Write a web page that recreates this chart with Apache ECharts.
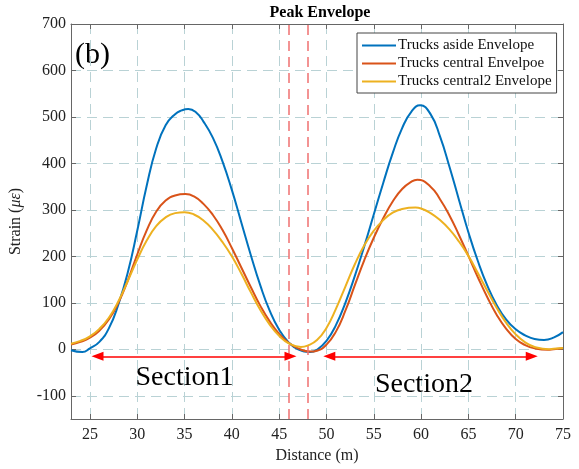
<!DOCTYPE html>
<html>
<head>
<meta charset="utf-8">
<script src="https://cdn.jsdelivr.net/npm/echarts@6/dist/echarts.min.js"></script>
<style>html,body{margin:0;padding:0;background:#fff;}#c{width:579px;height:469px;}</style>
</head>
<body>
<div id="c"></div>
<script>
const asideX = [23,24.2,25,26,27,28,29,30,31,32,33,34,34.7,35.4,36.2,37,38,39,40,41,42,43,44,45,46,47,48.3,49,50,51,52,53,54,55,56,57,58,59,59.9,61,62,63,64,65,66,67,68,69,70,71,72,73,74,75];
const aside = [-2,-6,2,16,45,96,165,255,352,432,482,506,514,517,510,490,455,405,343,273,203,138,83,42,15,0,-6,-1,18,52,100,158,222,290,358,422,476,512,525,506,458,393,322,252,190,137,95,64,43,30,22,20,25,37];
const centralX = [23,24,25,26,27,28,29,30,31,32,33,34,35.1,36,37,38,39,40,41,42,43,44,45,46,47,48.3,49,50,51,52,53,54,55,56,57,58,59,59.6,61,62,63,64,65,66,67,68,69,70,71,72,73.4,74,75];
const central = [10,16,25,40,64,100,148,204,256,296,320,331,334,329,313,289,257,218,176,134,94,60,33,14,2,-5,-3,10,38,83,138,192,240,282,318,345,361,365,350,323,288,246,201,155,112,74,44,22,9,2,-1,0,2];
const central2X = [23,24,25,26,27,28,29,30,31,32,33,34,35,36,37,38,39,40,41,42,43,44,45,46,47.3,48,49,50,51,52,53,54,55,56,57,58,59.4,60,61,62,63,64,65,66,67,68,69,70,71,72,73.5,74,75];
const central2 = [12,18,28,44,68,103,147,193,234,265,284,293,295,290,277,257,231,200,163,123,85,53,29,13,5,8,20,46,87,135,183,224,255,278,294,302,305,303,293,278,258,232,201,164,126,89,57,32,15,5,0,1,3];
const seriesNames = ['Trucks aside Envelope','Trucks central Envelpoe','Trucks central2 Envelope'];
const dividers = [46, 48];
const section1 = [25.8, 46.2];
const section2 = [50.3, 71.7];
const arrowY = -15;
const sectionLabels = [{text:'Section1', x:35, y:-60}, {text:'Section2', x:60.3, y:-75}];

const FONT = "'Liberation Serif','Times New Roman',serif";
const colors = ['#0072BD','#D95319','#EDB120'];
const gridColor = '#b9d2d5';
const axisColor = '#666';

function pairs(xs, ys){ return xs.map((x,i)=>[x, ys[i]]); }

const chart = echarts.init(document.getElementById('c'), null, {renderer:'canvas'});
const xBase = {type:'value', min:23, max:75, splitNumber:10, gridIndex:0};
const yBase = {type:'value', min:-150, max:700, splitNumber:8, gridIndex:0};
const lineIcon = 'path://M0,0L34,0L34,2L0,2Z';
chart.setOption({
  animation:false,
  backgroundColor:'#fff',
  title:{text:'Peak Envelope', left:315, top:0, textAlign:'center',
    textStyle:{fontFamily:FONT, fontSize:16, fontWeight:'bold', color:'#000'}},
  grid:{left:67, right:16, top:24, bottom:48, containLabel:false},
  legend:{data:seriesNames.map(n=>({name:n, icon:lineIcon})), orient:'vertical', left:357, top:33, padding:[5,5,4,5], itemGap:3,
    itemWidth:34, itemHeight:2, borderColor:'#444', borderWidth:1, backgroundColor:'#fff',
    textStyle:{fontFamily:FONT, fontSize:15, color:'#111', padding:[0,0,0,-3], lineHeight:15}},
  xAxis:[
    Object.assign({}, xBase, {position:'bottom', name:'Distance (m)', nameLocation:'middle', nameGap:29,
      nameTextStyle:{fontFamily:FONT, fontSize:16, color:'#222'},
      axisLine:{show:true, onZero:false, lineStyle:{color:axisColor, width:1}},
      axisTick:{show:true, inside:true, length:5, lineStyle:{color:axisColor}},
      axisLabel:{fontFamily:FONT, fontSize:16, color:'#222', margin:8,
        formatter:v=> (v % 5 === 0 ? String(v) : '')},
      splitLine:{show:true, lineStyle:{color:gridColor, type:[10,6], width:1}}}),
    Object.assign({}, xBase, {position:'top',
      axisLine:{show:true, onZero:false, lineStyle:{color:axisColor, width:1}},
      axisTick:{show:true, inside:true, length:5, lineStyle:{color:axisColor}},
      axisLabel:{show:false}, splitLine:{show:false}})
  ],
  yAxis:[
    Object.assign({}, yBase, {position:'left', name:'Strain ({i|με})', nameLocation:'middle', nameGap:47,
      nameTextStyle:{fontFamily:FONT, fontSize:16, color:'#222', rich:{i:{fontFamily:FONT, fontSize:16, fontStyle:'italic', color:'#222'}}},
      axisLine:{show:true, onZero:false, lineStyle:{color:axisColor, width:1}},
      axisTick:{show:true, inside:true, length:5, lineStyle:{color:axisColor}},
      axisLabel:{fontFamily:FONT, fontSize:16, color:'#222', margin:5,
        formatter:v=> (v % 100 === 0 ? String(v) : '')},
      splitLine:{show:true, lineStyle:{color:gridColor, type:[10,6], width:1}}}),
    Object.assign({}, yBase, {position:'right',
      axisLine:{show:true, onZero:false, lineStyle:{color:axisColor, width:1}},
      axisTick:{show:true, inside:true, length:5, lineStyle:{color:axisColor}},
      axisLabel:{show:false}, splitLine:{show:false}})
  ],
  graphic:[{type:'text', left:75, top:40, style:{text:'(b)', fontFamily:FONT, fontSize:30, fill:'#000'}}],
  series:[
    {name:seriesNames[0], type:'line', smooth:true, symbol:'none', data:pairs(asideX, aside), lineStyle:{width:2, color:colors[0]}, itemStyle:{color:colors[0]}, z:3},
    {name:seriesNames[1], type:'line', smooth:true, symbol:'none', data:pairs(centralX, central), lineStyle:{width:2, color:colors[1]}, itemStyle:{color:colors[1]}, z:4},
    {name:seriesNames[2], type:'line', smooth:true, symbol:'none', data:pairs(central2X, central2), lineStyle:{width:2, color:colors[2]}, itemStyle:{color:colors[2]}, z:5},
    {name:'annot', type:'line', data:[], symbol:'none', silent:true, z:2,
      markLine:{silent:true, symbol:['none','none'], label:{show:false},
        data: dividers.map(d=>({xAxis:d, lineStyle:{color:'#ef7070', type:[10,6], width:1.5}}))},
    },
    {name:'arrows', type:'line', data:[], symbol:'none', silent:true, z:6,
      markLine:{silent:true, symbol:['triangle','triangle'], symbolSize:[9,12], label:{show:false},
        lineStyle:{color:'#ff0000', type:'solid', width:1.5},
        data:[
          [{coord:[section1[0], arrowY]},{coord:[section1[1], arrowY]}],
          [{coord:[section2[0], arrowY]},{coord:[section2[1], arrowY]}]
        ]},
      markPoint:{silent:true, symbol:'circle', symbolSize:0,
        label:{show:true, position:'inside', fontFamily:FONT, fontSize:28, color:'#000'},
        data: sectionLabels.map(s=>({coord:[s.x, s.y], value:s.text, label:{formatter:s.text}}))}
    }
  ]
});
</script>
</body>
</html>
